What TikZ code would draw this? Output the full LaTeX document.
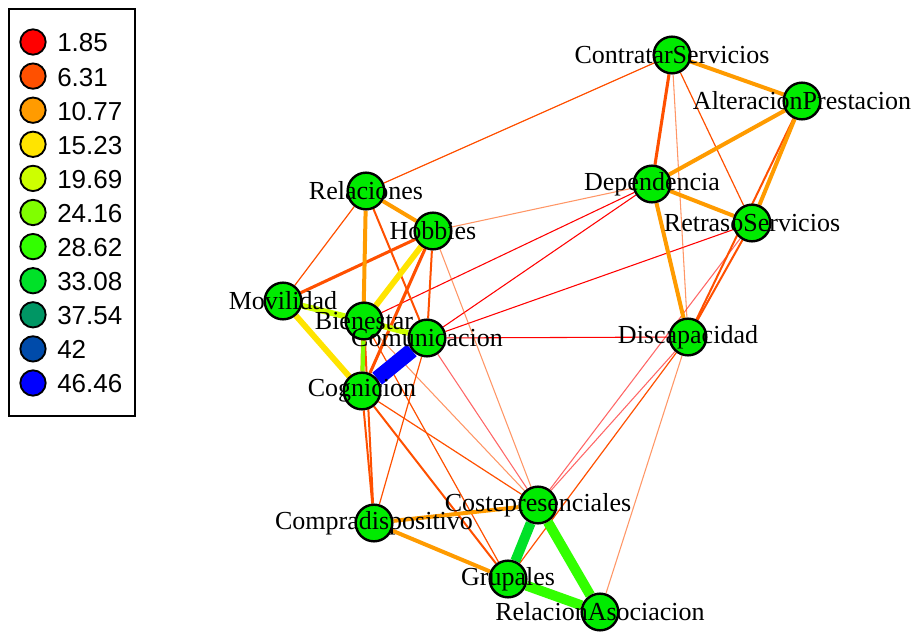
\documentclass[tikz,border=0pt]{standalone}
\usepackage{fontspec}
\setmainfont{Liberation Serif}
\newfontfamily\legendfont{Liberation Sans}
\usetikzlibrary{backgrounds}

\definecolor{col1}{RGB}{255,0,0}
\definecolor{col2}{RGB}{255,80,0}
\definecolor{col3}{RGB}{255,155,0}
\definecolor{col4}{RGB}{255,228,0}
\definecolor{col5}{RGB}{205,255,0}
\definecolor{col6}{RGB}{128,255,0}
\definecolor{col7}{RGB}{50,255,0}
\definecolor{col8}{RGB}{0,225,40}
\definecolor{col9}{RGB}{0,150,100}
\definecolor{col10}{RGB}{0,75,170}
\definecolor{col11}{RGB}{0,0,255}
\definecolor{vertgreen}{RGB}{0,235,0}

\tikzstyle{vert}=[circle, draw=black, line width=1.8pt, fill=vertgreen, minimum size=27.5pt, inner sep=0]
\tikzstyle{vlabel}=[inner sep=0, font=\fontsize{19.5}{22}\selectfont]
\tikzstyle{legdot}=[circle, draw=black, line width=1.4pt, minimum size=19pt, inner sep=0]
\tikzstyle{legtext}=[inner sep=0, anchor=west, font=\legendfont\fontsize{19.5}{22}\selectfont]

\begin{document}
\begin{tikzpicture}[x=0.75pt, y=-0.75pt]
	\useasboundingbox (0,0) rectangle (913,635);

	% legend
	\draw[line width=1.5pt] (9,9) rectangle (135,416);
	\foreach \v/\c [count=\i from 0] in {1.85/col1, 6.31/col2, 10.77/col3, 15.23/col4, 19.69/col5,
		24.16/col6, 28.62/col7, 33.08/col8, 37.54/col9, 42/col10, 46.46/col11} {
		\node[legdot, fill=\c] (leg\i) at (33,{42+34.1*\i}) {};
		\node[legtext] (legt\i) at (57,{43+34.1*\i}) {\v};
	}

	% vertices
	\node[vert] (CS)  at (672, 55) {};
	\node[vert] (AP)  at (802,101) {};
	\node[vert] (Dep) at (652,184) {};
	\node[vert] (RS)  at (752,223) {};
	\node[vert] (Dis) at (688,337) {};
	\node[vert] (Rel) at (366,191) {};
	\node[vert] (Hob) at (433,231) {};
	\node[vert] (Mov) at (283,301) {};
	\node[vert] (Bie) at (364,321) {};
	\node[vert] (Com) at (427,338) {};
	\node[vert] (Cog) at (362,391) {};
	\node[vert] (Cpr) at (374,523) {};
	\node[vert] (Cos) at (538,505) {};
	\node[vert] (Gru) at (508,579) {};
	\node[vert] (Asc) at (600,612) {};

	% edges
	\begin{pgfonlayer}{background}
		\foreach \a/\b in {Bie/Dep, Com/Dep, Com/RS, Com/Dis} {
			\draw[col1, line width=0.8pt] (\a) -- (\b);
		}
		\foreach \a/\b in {Com/Cos, RS/Cos, Dis/Cos} {
			\draw[col1, opacity=0.6, line width=0.8pt] (\a) -- (\b);
		}
		\foreach \a/\b in {Hob/Dep, Hob/Cos, CS/Dis, Bie/Cos, Dis/Asc} {
			\draw[col2, opacity=0.6, line width=0.8pt] (\a) -- (\b);
		}
		\foreach \a/\b in {Rel/Mov, Rel/CS, CS/RS, Cog/Cos, Com/Cpr, Bie/Gru, Dis/Gru} {
			\draw[col2, line width=0.9pt] (\a) -- (\b);
		}
		\foreach \a/\b in {Rel/Com, Hob/Com, Cog/Gru, Cog/Cpr, Bie/Cpr, AP/Dis, RS/Dis} {
			\draw[col2, line width=1.5pt] (\a) -- (\b);
		}
		\foreach \a/\b in {Mov/Hob, Hob/Cog, CS/Dep} {
			\draw[col2, line width=2.3pt] (\a) -- (\b);
		}
		\foreach \a/\b in {Rel/Hob, Rel/Cog, CS/AP, AP/Dep, AP/RS, Dep/RS, Dep/Dis, Cpr/Cos, Cpr/Gru} {
			\draw[col3, line width=3pt] (\a) -- (\b);
		}
		\foreach \a/\b in {Mov/Cog, Hob/Bie} {
			\draw[col4, line width=4.4pt] (\a) -- (\b);
		}
		\foreach \a/\b in {Mov/Bie, Bie/Com} {
			\draw[col5, line width=4.4pt] (\a) -- (\b);
		}
		\draw[col6, line width=3pt] (Bie) -- (Cog);
		\foreach \a/\b in {Cos/Asc, Gru/Asc} {
			\draw[col7, line width=7.5pt] (\a) -- (\b);
		}
		\draw[col8, line width=7.5pt] (Cos) -- (Gru);
		\draw[col11, line width=11.5pt] (Cog) -- (Com);
	\end{pgfonlayer}

	% labels on top
	\foreach \n/\t in {CS/ContratarServicios, AP/AlteracionPrestacion, Dep/Dependencia,
		RS/RetrasoServicios, Dis/Discapacidad, Rel/Relaciones, Hob/Hobbies, Mov/Movilidad,
		Bie/Bienestar, Com/Comunicacion, Cog/Cognicion, Cpr/Compradispositivo,
		Cos/Costepresenciales, Gru/Grupales, Asc/RelacionAsociacion} {
		\node[vlabel] (\n-l) at (\n) {\t};
	}
\end{tikzpicture}
\end{document}
